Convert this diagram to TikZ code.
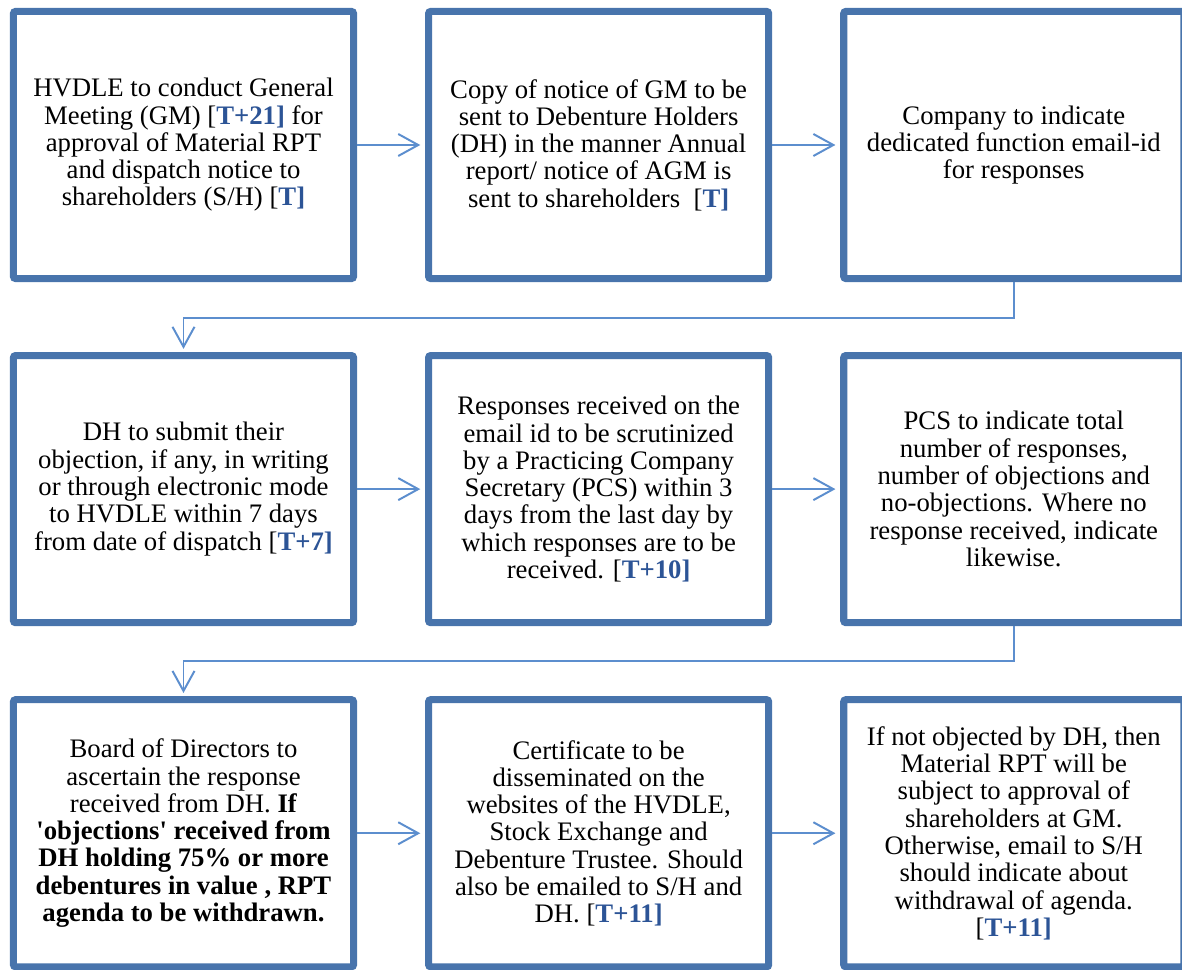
\documentclass[tikz,border=0pt]{standalone}
\usepackage{fontspec}
\setmainfont{LiberationSerif}[Extension=.ttf,UprightFont=*-Regular,BoldFont=*-Bold,
  ItalicFont=*-Italic,BoldItalicFont=*-BoldItalic]
\usepackage{tikz}
\usetikzlibrary{arrows.meta,positioning,shadows}
\definecolor{boxblue}{RGB}{72,116,172}
\definecolor{arrowblue}{RGB}{92,142,206}
\definecolor{refblue}{RGB}{44,84,150}
\newcommand{\tday}[1]{[\textcolor{refblue}{\textbf{#1]}}}

\begin{document}
\begin{tikzpicture}[x=0.025cm,y=-0.025cm,
  node distance=1.75cm and 1.7cm,
  stepbox/.style={draw=boxblue,line width=5pt,fill=white,rounded corners=1.5pt,
    minimum width=8.5cm,minimum height=6.675cm,align=center,inner sep=0pt,
    font=\fontsize{19}{19.4}\selectfont,
    drop shadow={shadow xshift=1.2pt,shadow yshift=-1.8pt,opacity=0.25,fill=black!60}},
  conn/.style={draw=arrowblue,line width=1.4pt,
    -{Straight Barb[length=0.5cm,width=0.55cm,line width=1.4pt]}}]
\path[use as bounding box,clip] (0,0) rectangle (1182,970);

% first row
\node[stepbox] (gm) at (183.5,145) {HVDLE to conduct General\\
Meeting (GM) \tday{T+21} for\\
approval of Material RPT\\
and dispatch notice to\\
shareholders (S/H) \tday{T}};
\node[stepbox,right=of gm] (copy) {Copy of notice of GM to be\\
sent to Debenture Holders\\
(DH) in the manner Annual\\
report/ notice of AGM is\\
sent to shareholders\ \ \tday{T}};
\node[stepbox,right=of copy] (email) {Company to indicate\\
dedicated function email-id\\
for responses};

% second row
\node[stepbox,below=of gm] (submit) {DH to submit their\\
objection, if any, in writing\\
or through electronic mode\\
to HVDLE within 7 days\\
from date of dispatch \tday{T+7}};
\node[stepbox,right=of submit] (scrut) {Responses received on the\\
email id to be scrutinized\\
by a Practicing Company\\
Secretary (PCS) within 3\\
days from the last day by\\
which responses are to be\\
received. \tday{T+10}};
\node[stepbox,right=of scrut] (pcs) {PCS to indicate total\\
number of responses,\\
number of objections and\\
no-objections. Where no\\
response received, indicate\\
likewise.};

% third row
\node[stepbox,below=of submit] (board) {Board of Directors to\\
ascertain the response\\
received from DH. \textbf{If}\\
\textbf{\textquotesingle objections\textquotesingle\ received from}\\
\textbf{DH holding 75\% or more}\\
\textbf{debentures in value , RPT}\\
\textbf{agenda to be withdrawn.}};
\node[stepbox,right=of board] (cert) {Certificate to be\\
disseminated on the\\
websites of the HVDLE,\\
Stock Exchange and\\
Debenture Trustee. Should\\
also be emailed to S/H and\\
DH. \tday{T+11}};
\node[stepbox,right=of cert] (final) {If not objected by DH, then\\
Material RPT will be\\
subject to approval of\\
shareholders at GM.\\
Otherwise, email to S/H\\
should indicate about\\
withdrawal of agenda.\\
\tday{T+11}};

% connectors
\draw[conn,shorten >=0.12cm] (gm) -- (copy);
\draw[conn,shorten >=0.12cm] (copy) -- (email);
\draw[conn,shorten >=0.12cm] (submit) -- (scrut);
\draw[conn,shorten >=0.12cm] (scrut) -- (pcs);
\draw[conn,shorten >=0.12cm] (board) -- (cert);
\draw[conn,shorten >=0.12cm] (cert) -- (final);
\draw[conn,shorten >=0.08cm] (email.south) -- ++(0,36) -| (submit.north);
\draw[conn,shorten >=0.08cm] (pcs.south) -- ++(0,35) -| (board.north);
\end{tikzpicture}
\end{document}
